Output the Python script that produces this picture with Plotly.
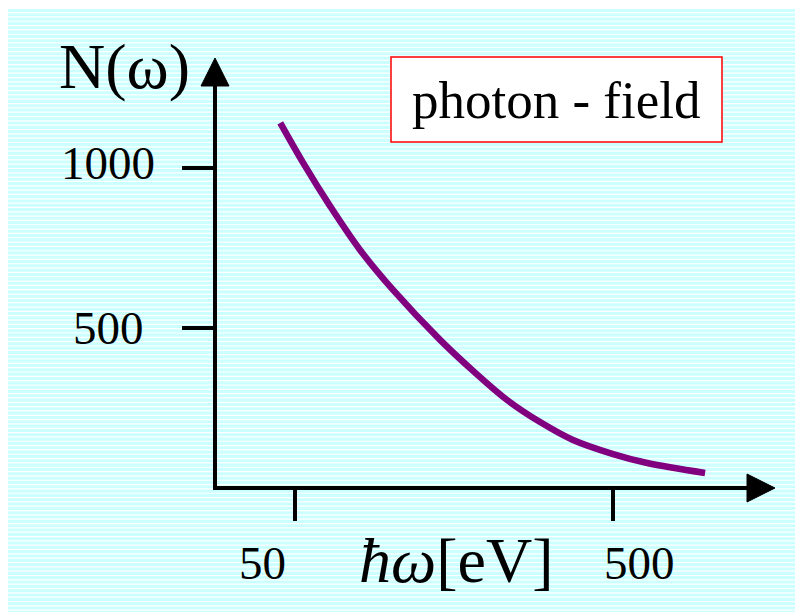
import plotly.graph_objects as go

# ---- data ----
energy_ev = [44.9, 53.0, 64.4, 80.0, 101.6, 142.8, 181.4, 232, 294.6, 374, 500, 640, 973]
photon_count = [1141, 1016, 881, 744, 619, 463, 366, 275, 206, 150, 106, 78, 47]
x_tick_vals = [50, 500]
x_tick_text = ["50", "500"]
y_tick_vals = [500, 1000]
y_tick_text = ["500", "1000"]

OFF = 8  # page body margin
W, H = 803 - OFF, 612 - OFF
# plot area in reference page pixels: x 215..775, y 58..488
L, R, T, B = 215 - OFF, 803 - 775, 58 - OFF, 612 - 488
PW, PH = W - L - R, H - T - B

def px(x):
    return (x - OFF - L) / PW

def py(y):
    return (H - B - (y - OFF)) / PH

SERIF = "Liberation Serif, Times New Roman, serif"

fig = go.Figure()
fig.add_trace(go.Scatter(
    x=energy_ev, y=photon_count, mode="lines",
    line=dict(color="#800080", width=6.5, shape="spline", smoothing=1.0),
    showlegend=False, hoverinfo="skip",
))

shapes = []
# background
shapes.append(dict(type="rect", xref="paper", yref="paper",
                   x0=px(7), x1=px(812), y0=py(9), y1=py(620),
                   fillcolor="#CCFFFF", line=dict(width=0), layer="below"))
period = 4.33
yy = 9 + 3.0
while yy < 615:
    shapes.append(dict(type="rect", xref="paper", yref="paper",
                       x0=px(7), x1=px(812), y0=py(yy), y1=py(yy + 1.2),
                       fillcolor="white", line=dict(width=0), layer="below"))
    yy += period
# axes lines
shapes.append(dict(type="line", xref="paper", yref="paper",
                   x0=px(215), x1=px(215), y0=py(490), y1=py(75),
                   line=dict(color="black", width=4)))
shapes.append(dict(type="line", xref="paper", yref="paper",
                   x0=px(213), x1=px(760), y0=py(488), y1=py(488),
                   line=dict(color="black", width=4)))
# arrowheads
shapes.append(dict(type="path", xref="paper", yref="paper",
                   path=f"M {px(201)},{py(86)} L {px(215)},{py(58)} L {px(229)},{py(86)} Z",
                   fillcolor="black", line=dict(color="black", width=1)))
shapes.append(dict(type="path", xref="paper", yref="paper",
                   path=f"M {px(747)},{py(474)} L {px(775)},{py(488)} L {px(747)},{py(502)} Z",
                   fillcolor="black", line=dict(color="black", width=1)))
# legend box
shapes.append(dict(type="rect", xref="paper", yref="paper",
                   x0=px(391), x1=px(722), y0=py(57), y1=py(142),
                   fillcolor="white", line=dict(color="#FF0000", width=1.5)))

annotations = []
annotations.append(dict(text="photon - field", xref="paper", yref="paper",
                        x=px(556), y=py(100), showarrow=False,
                        font=dict(family=SERIF, size=53, color="black"),
                        xanchor="center", yanchor="middle"))
annotations.append(dict(text="N(ω)", xref="paper", yref="paper",
                        x=px(124), y=py(66), showarrow=False,
                        font=dict(family=SERIF, size=64, color="black"),
                        xanchor="center", yanchor="middle"))
for v, t in zip(y_tick_vals, y_tick_text):
    annotations.append(dict(text=t, xref="paper", yref="y", x=px(108), y=v,
                            showarrow=False, yshift=5 if v == 1000 else 0,
                            font=dict(family=SERIF, size=47, color="black"),
                            xanchor="center", yanchor="middle"))
x_label_px = {50: 262, 500: 639}
for v, t in zip(x_tick_vals, x_tick_text):
    annotations.append(dict(text=t, xref="paper", yref="paper",
                            x=px(x_label_px[v]), y=py(563),
                            showarrow=False,
                            font=dict(family=SERIF, size=47, color="black"),
                            xanchor="center", yanchor="middle"))
annotations.append(dict(text="<i>ħω</i>[eV]", xref="paper", yref="paper",
                        x=px(456), y=py(560), showarrow=False,
                        font=dict(family=SERIF, size=64, color="black"),
                        xanchor="center", yanchor="middle"))

fig.update_layout(
    width=W, height=H,
    margin=dict(l=L, r=R, t=T, b=B),
    paper_bgcolor="white", plot_bgcolor="rgba(0,0,0,0)",
    shapes=shapes, annotations=annotations, showlegend=False,
    xaxis=dict(type="log", range=[1.447, 3.208], showgrid=False, zeroline=False,
               showline=False, tickvals=x_tick_vals, ticktext=x_tick_text,
               showticklabels=False, ticks="outside", ticklen=32, tickwidth=4,
               tickcolor="black", fixedrange=True),
    yaxis=dict(range=[0, 1344], showgrid=False, zeroline=False, showline=False,
               tickvals=y_tick_vals, ticktext=y_tick_text, showticklabels=False,
               ticks="outside", ticklen=32, tickwidth=4, tickcolor="black",
               fixedrange=True),
)

fig.write_html("out.html")
